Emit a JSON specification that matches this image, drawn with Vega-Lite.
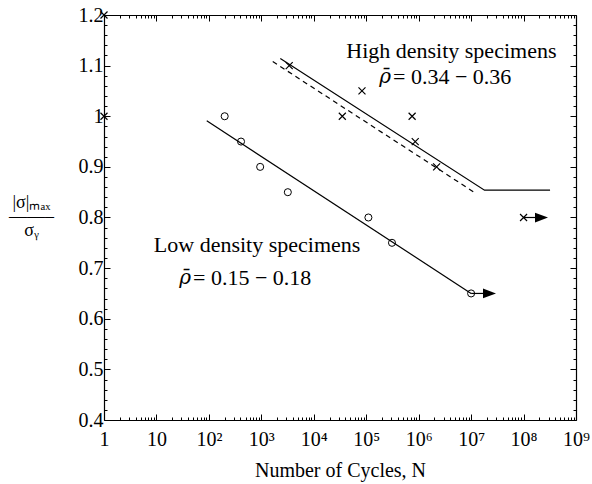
{
  "$schema": "https://vega.github.io/schema/vega-lite/v6.json",
  "autosize": {"type": "none"},
  "width": 472,
  "height": 405,
  "padding": {"left": 104, "top": 15, "right": 16, "bottom": 64},
  "background": "white",
  "config": {
    "font": "Liberation Serif",
    "view": {"stroke": null},
    "axis": {
      "grid": false,
      "domainColor": "black",
      "domainWidth": 1.2,
      "tickColor": "black",
      "tickWidth": 1,
      "labelColor": "black",
      "titleColor": "black",
      "labelFont": "Liberation Serif",
      "titleFont": "Liberation Serif",
      "labelFontSize": 20,
      "titleFontSize": 20,
      "titleFontWeight": "normal",
      "labelOverlap": false,
      "labelFlush": false,
      "labelBound": false
    }
  },
  "datasets": {
    "lines": [
      {"id": "low", "N": 91, "s": 0.991},
      {"id": "low", "N": 10000000, "s": 0.65},
      {"id": "high", "N": 2300, "s": 1.114},
      {"id": "high", "N": 18000000, "s": 0.854},
      {"id": "high", "N": 320000000, "s": 0.854},
      {"id": "arrowlow", "N": 10000000, "s": 0.65},
      {"id": "arrowlow", "N": 17000000, "s": 0.65},
      {"id": "arrowhigh", "N": 100000000, "s": 0.8},
      {"id": "arrowhigh", "N": 166000000, "s": 0.8}
    ],
    "dashed": [
      {"id": "dash", "N": 1650, "s": 1.108},
      {"id": "dash", "N": 11000000, "s": 0.851}
    ],
    "low": [
      {"N": 200, "s": 1.0},
      {"N": 410, "s": 0.95},
      {"N": 950, "s": 0.9},
      {"N": 3200, "s": 0.85},
      {"N": 110000, "s": 0.8},
      {"N": 310000, "s": 0.75},
      {"N": 10000000, "s": 0.65}
    ],
    "high": [
      {"N": 1, "s": 1.2},
      {"N": 1, "s": 1.0},
      {"N": 3400, "s": 1.1},
      {"N": 83000, "s": 1.05},
      {"N": 35000, "s": 1.0},
      {"N": 750000, "s": 1.0},
      {"N": 860000, "s": 0.95},
      {"N": 2200000, "s": 0.9},
      {"N": 100000000, "s": 0.8}
    ],
    "heads": [
      {"N": 22400000, "s": 0.65},
      {"N": 220000000, "s": 0.8}
    ],
    "titles": [
      {"N": 4200000, "s": 1.129, "t": "High density specimens"},
      {"N": 830, "s": 0.745, "t": "Low density specimens"}
    ],
    "rhos": [
      {"N": 297000, "s": 1.077, "t": "ρ̄"},
      {"N": 45.6, "s": 0.68, "t": "ρ̄"}
    ],
    "ranges": [
      {"N": 324000, "s": 1.077, "t": "= 0.34 − 0.36"},
      {"N": 49.8, "s": 0.68, "t": "= 0.15 − 0.18"}
    ]
  },
  "layer": [
    {
      "data": {"name": "lines"},
      "mark": {"type": "line", "color": "black", "strokeWidth": 1.2},
      "encoding": {
        "x": {
          "field": "N", "type": "quantitative",
          "scale": {"type": "log", "domain": [1, 1000000000], "nice": false},
          "axis": {
            "orient": "bottom",
            "title": "Number of Cycles, N",
            "titleFont": "Liberation Serif",
            "titleFontSize": 20,
            "titlePadding": 8,
            "labelFont": "Liberation Serif",
            "labelFontSize": 20,
            "values": [1,2,3,4,5,6,7,8,9,10,20,30,40,50,60,70,80,90,100,200,300,400,500,600,700,800,900,1000,2000,3000,4000,5000,6000,7000,8000,9000,1e4,2e4,3e4,4e4,5e4,6e4,7e4,8e4,9e4,1e5,2e5,3e5,4e5,5e5,6e5,7e5,8e5,9e5,1e6,2e6,3e6,4e6,5e6,6e6,7e6,8e6,9e6,1e7,2e7,3e7,4e7,5e7,6e7,7e7,8e7,9e7,1e8,2e8,3e8,4e8,5e8,6e8,7e8,8e8,9e8,1e9],
            "labelExpr": "abs(log(datum.value)/LN10 - round(log(datum.value)/LN10)) < 1e-6 ? (datum.value < 50 ? toString(datum.value) : '10' + ['','','²','³','⁴','⁵','⁶','⁷','⁸','⁹'][round(log(datum.value)/LN10)]) : ''",
            "tickSize": {"condition": {"test": "abs(log(datum.value)/LN10 - round(log(datum.value)/LN10)) < 1e-6", "value": -6}, "value": -3},
            "labelPadding": 15
          }
        },
        "y": {
          "field": "s", "type": "quantitative",
          "scale": {"domain": [0.4, 1.2], "nice": false, "zero": false},
          "axis": {
            "orient": "left",
            "title": ["|σ|ₘₐₓ", "——–", "σᵧ"],
            "titleFont": "Liberation Serif",
            "titleAngle": 0,
            "titleAlign": "center",
            "titleBaseline": "middle",
            "titleFontSize": 18,
            "titleLineHeight": 14,
            "titleX": -73,
            "titleY": 187,
            "labelFont": "Liberation Serif",
            "labelFontSize": 20,
            "labelAlign": "right",
            "values": [0.4,0.42,0.44,0.46,0.48,0.5,0.52,0.54,0.56,0.58,0.6,0.62,0.64,0.66,0.68,0.7,0.72,0.74,0.76,0.78,0.8,0.82,0.84,0.86,0.88,0.9,0.92,0.94,0.96,0.98,1.0,1.02,1.04,1.06,1.08,1.1,1.12,1.14,1.16,1.18,1.2],
            "labelExpr": "abs(datum.value*10 - round(datum.value*10)) < 1e-6 ? toString(round(datum.value*10)/10) : ''",
            "tickSize": {"condition": {"test": "abs(datum.value*10 - round(datum.value*10)) < 1e-6", "value": -6}, "value": -3},
            "labelPadding": 7
          }
        },
        "detail": {"field": "id"}
      }
    },
    {
      "data": {"name": "dashed"},
      "mark": {"type": "line", "color": "black", "strokeWidth": 1.2, "strokeDash": [5, 4]},
      "encoding": {
        "x": {"field": "N", "type": "quantitative", "scale": {"type": "log", "domain": [1, 1000000000], "nice": false}, "axis": null},
        "y": {"field": "s", "type": "quantitative", "scale": {"domain": [0.4, 1.2], "nice": false, "zero": false}, "axis": null},
        "detail": {"field": "id"}
      }
    },
    {
      "data": {"name": "low"},
      "mark": {"type": "point", "shape": "circle", "filled": false, "stroke": "black", "strokeWidth": 1, "size": 50, "opacity": 1},
      "encoding": {
        "x": {"field": "N", "type": "quantitative", "scale": {"type": "log", "domain": [1, 1000000000], "nice": false}, "axis": null},
        "y": {"field": "s", "type": "quantitative", "scale": {"domain": [0.4, 1.2], "nice": false, "zero": false}, "axis": null}
      }
    },
    {
      "data": {"name": "high"},
      "mark": {"type": "point", "shape": "M-1,-1L1,1M-1,1L1,-1", "filled": false, "stroke": "black", "strokeWidth": 1.2, "size": 49, "opacity": 1},
      "encoding": {
        "x": {"field": "N", "type": "quantitative", "scale": {"type": "log", "domain": [1, 1000000000], "nice": false}, "axis": null},
        "y": {"field": "s", "type": "quantitative", "scale": {"domain": [0.4, 1.2], "nice": false, "zero": false}, "axis": null}
      }
    },
    {
      "data": {"name": "heads"},
      "mark": {"type": "point", "shape": "M-1,-0.75L1,0L-1,0.75Z", "filled": true, "fill": "black", "strokeWidth": 0, "size": 169, "opacity": 1},
      "encoding": {
        "x": {"field": "N", "type": "quantitative", "scale": {"type": "log", "domain": [1, 1000000000], "nice": false}, "axis": null},
        "y": {"field": "s", "type": "quantitative", "scale": {"domain": [0.4, 1.2], "nice": false, "zero": false}, "axis": null}
      }
    },
    {
      "data": {"name": "titles"},
      "mark": {"type": "text", "font": "Liberation Serif", "fontSize": 22, "align": "center", "baseline": "middle", "color": "black"},
      "encoding": {
        "x": {"field": "N", "type": "quantitative", "scale": {"type": "log", "domain": [1, 1000000000], "nice": false}, "axis": null},
        "y": {"field": "s", "type": "quantitative", "scale": {"domain": [0.4, 1.2], "nice": false, "zero": false}, "axis": null},
        "text": {"field": "t"}
      }
    },
    {
      "data": {"name": "rhos"},
      "mark": {"type": "text", "font": "DejaVu Serif", "fontStyle": "italic", "fontSize": 20, "align": "right", "baseline": "middle", "color": "black"},
      "encoding": {
        "x": {"field": "N", "type": "quantitative", "scale": {"type": "log", "domain": [1, 1000000000], "nice": false}, "axis": null},
        "y": {"field": "s", "type": "quantitative", "scale": {"domain": [0.4, 1.2], "nice": false, "zero": false}, "axis": null},
        "text": {"field": "t"}
      }
    },
    {
      "data": {"name": "ranges"},
      "mark": {"type": "text", "font": "Liberation Serif", "fontSize": 22, "align": "left", "baseline": "middle", "color": "black"},
      "encoding": {
        "x": {"field": "N", "type": "quantitative", "scale": {"type": "log", "domain": [1, 1000000000], "nice": false}, "axis": null},
        "y": {"field": "s", "type": "quantitative", "scale": {"domain": [0.4, 1.2], "nice": false, "zero": false}, "axis": null},
        "text": {"field": "t"}
      }
    },
    {
      "data": {"name": "low"},
      "mark": {"type": "point", "opacity": 0},
      "encoding": {
        "x": {
          "field": "N", "type": "quantitative",
          "scale": {"type": "log", "domain": [1, 1000000000], "nice": false},
          "axis": {
            "orient": "top", "title": null, "labels": false,
            "values": [1,2,3,4,5,6,7,8,9,10,20,30,40,50,60,70,80,90,100,200,300,400,500,600,700,800,900,1000,2000,3000,4000,5000,6000,7000,8000,9000,1e4,2e4,3e4,4e4,5e4,6e4,7e4,8e4,9e4,1e5,2e5,3e5,4e5,5e5,6e5,7e5,8e5,9e5,1e6,2e6,3e6,4e6,5e6,6e6,7e6,8e6,9e6,1e7,2e7,3e7,4e7,5e7,6e7,7e7,8e7,9e7,1e8,2e8,3e8,4e8,5e8,6e8,7e8,8e8,9e8,1e9],
            "tickSize": {"condition": {"test": "abs(log(datum.value)/LN10 - round(log(datum.value)/LN10)) < 1e-6", "value": -6}, "value": -3}
          }
        },
        "y": {
          "field": "s", "type": "quantitative",
          "scale": {"domain": [0.4, 1.2], "nice": false, "zero": false},
          "axis": {
            "orient": "right", "title": null, "labels": false,
            "values": [0.4,0.42,0.44,0.46,0.48,0.5,0.52,0.54,0.56,0.58,0.6,0.62,0.64,0.66,0.68,0.7,0.72,0.74,0.76,0.78,0.8,0.82,0.84,0.86,0.88,0.9,0.92,0.94,0.96,0.98,1.0,1.02,1.04,1.06,1.08,1.1,1.12,1.14,1.16,1.18,1.2],
            "tickSize": {"condition": {"test": "abs(datum.value*10 - round(datum.value*10)) < 1e-6", "value": -6}, "value": -3}
          }
        }
      }
    }
  ],
  "resolve": {"axis": {"x": "independent", "y": "independent"}}
}
